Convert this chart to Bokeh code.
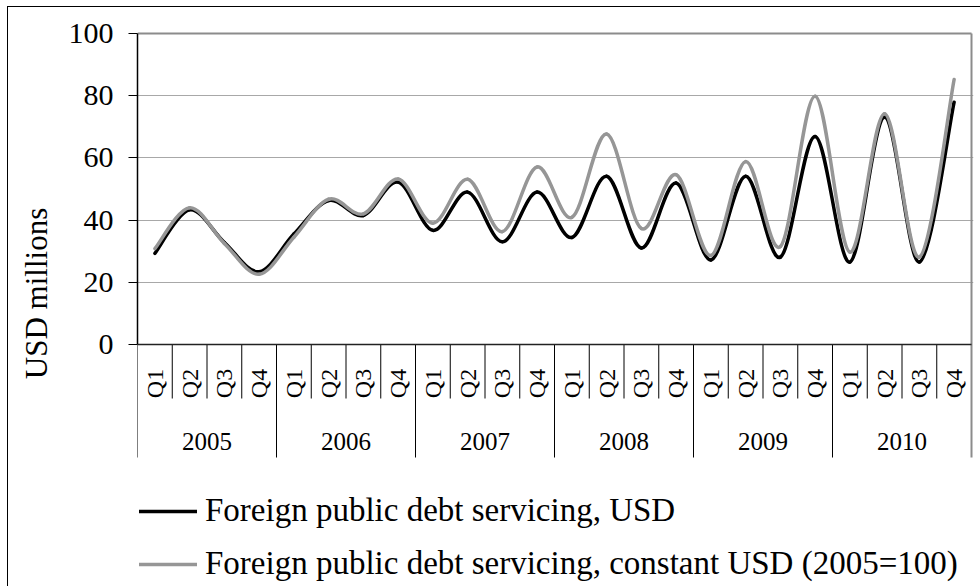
import numpy as np
from bokeh.plotting import figure
from bokeh.models import (LinearAxis, FixedTicker, Range1d, Legend, LegendItem,
                          ColumnDataSource, Grid, InlineStyleSheet)
from bokeh.core.properties import value
from bokeh.embed import file_html
from bokeh.resources import INLINE

# ---------------- data ----------------
years = ["2005", "2006", "2007", "2008", "2009", "2010"]
quarters = ["Q1", "Q2", "Q3", "Q4"]
usd = [29.3, 43.3, 32.8, 23.4, 35.5, 46.3, 41.5, 52.2,
       36.7, 49.0, 33.0, 49.0, 34.4, 54.1, 31.0, 51.9,
       27.2, 54.1, 28.1, 66.9, 26.5, 73.1, 26.5, 77.9]
usd_const = [30.8, 44.0, 32.5, 22.6, 34.5, 46.7, 42.0, 53.2,
             39.0, 53.1, 36.3, 57.1, 40.9, 67.7, 37.3, 54.6,
             28.6, 58.8, 31.5, 79.8, 29.7, 74.2, 28.1, 85.2]
series_names = ["Foreign public debt servicing, USD",
                "Foreign public debt servicing, constant USD (2005=100)"]
y_ticks = [0, 20, 40, 60, 80, 100]
y_label = "USD millions"

# ---------------- layout (pixels) ----------------
W, H = 980, 586
FRAME_L, AREA_R, FRAME_R = 137, 971, 973
ZERO_PX, TOP_PX = 344, 33
Q_LABEL_PX, Q_SEP_PX = 383, 398
YEAR_LABEL_PX, YEAR_SEP_PX = 441, 457
FONT = "'Liberation Serif', 'Times New Roman', serif"

n_q = len(quarters)
n = len(years) * n_q
y_max = y_ticks[-1]
x_per_px = n / (AREA_R - FRAME_L)
y_per_px = y_max / (ZERO_PX - TOP_PX)


def ydata(px):
    return (ZERO_PX - px) * y_per_px


p = figure(width=W, height=H, output_backend="svg", toolbar_location=None,
           x_range=Range1d(0, n + (FRAME_R - AREA_R) * x_per_px),
           y_range=Range1d(ydata(H), ydata(0)),
           x_axis_location=None, y_axis_location=None,
           min_border_left=FRAME_L, min_border_right=W - FRAME_R,
           min_border_top=0, min_border_bottom=0)
p.outline_line_color = None
p.background_fill_color = "white"
p.border_fill_color = "white"
p.grid.visible = False

# outer chart border (only its left and top edges fall inside the picture)
p.stylesheets = [InlineStyleSheet(css=(
    ":host {overflow: hidden;}"
    ":host::after {content: ''; position: absolute; left: 7px; top: 6px; right: -40px; bottom: -40px;"
    " border: 1.5px solid black; pointer-events: none;}"))]

# y axis
yax = LinearAxis(ticker=FixedTicker(ticks=y_ticks), bounds=(0, y_max))
yax.axis_line_color = "black"
yax.axis_line_width = 1.5
yax.major_tick_line_color = "black"
yax.major_tick_line_width = 1.2
yax.major_tick_out = 9
yax.major_tick_in = 0
yax.minor_tick_line_color = None
yax.major_label_text_font = FONT
yax.major_label_text_font_size = "30px"
yax.major_label_text_color = "black"
yax.major_label_standoff = 15
yax.axis_label = y_label
yax.axis_label_text_font = FONT
yax.axis_label_text_font_size = "31px"
yax.axis_label_text_font_style = "normal"
yax.axis_label_text_color = "black"
yax.axis_label_standoff = 12
p.add_layout(yax, "left")

grid = Grid(dimension=1, ticker=FixedTicker(ticks=y_ticks[1:-1]),
            grid_line_color="#a8a8a8", grid_line_width=1)
p.add_layout(grid)

# plot-area frame lines
p.segment(x0=[0], y0=[y_max], x1=[n], y1=[y_max], line_color="#8c8c8c", line_width=2)
p.segment(x0=[n], y0=[ydata(YEAR_SEP_PX)], x1=[n], y1=[y_max], line_color="#8c8c8c", line_width=2)

# category separators
bounds = list(range(n))
sep_bottom = [ydata(YEAR_SEP_PX) if b % n_q == 0 else ydata(Q_SEP_PX) for b in bounds]
p.segment(x0=bounds, y0=[0] * n, x1=bounds, y1=sep_bottom, line_color="black", line_width=1)
p.segment(x0=[0], y0=[0], x1=[n], y1=[0], line_color="#222222", line_width=1.5)

# category labels
qsrc = ColumnDataSource(dict(x=[i + 0.5 for i in range(n)],
                             y=[ydata(Q_LABEL_PX)] * n,
                             t=quarters * len(years)))
p.text(x="x", y="y", text="t", source=qsrc, angle=np.pi / 2,
       text_font=value(FONT), text_font_size="24px", text_color="black",
       text_align="center", text_baseline="middle")
ysrc = ColumnDataSource(dict(x=[k * n_q + n_q / 2 for k in range(len(years))],
                             y=[ydata(YEAR_LABEL_PX)] * len(years),
                             t=years))
p.text(x="x", y="y", text="t", source=ysrc,
       text_font=value(FONT), text_font_size="25px", text_color="black",
       text_align="center", text_baseline="middle")


def smooth_source(vals):
    v = np.asarray(vals, float)
    x = np.arange(n) + 0.5
    vp = np.concatenate([[v[0]], v, [v[-1]]])
    xp = np.concatenate([[x[0]], x, [x[-1]]])
    i = np.arange(n - 1)
    return ColumnDataSource(dict(
        x0=x[:-1], y0=v[:-1], x1=x[1:], y1=v[1:],
        cx0=x[:-1] + (xp[i + 2] - xp[i]) / 6, cy0=v[:-1] + (vp[i + 2] - vp[i]) / 6,
        cx1=x[1:] - (xp[i + 3] - xp[i + 1]) / 6, cy1=v[1:] - (vp[i + 3] - vp[i + 1]) / 6))


r1 = p.bezier(x0="x0", y0="y0", x1="x1", y1="y1", cx0="cx0", cy0="cy0", cx1="cx1", cy1="cy1",
              source=smooth_source(usd), line_color="black", line_width=3.5, line_cap="round")
r2 = p.bezier(x0="x0", y0="y0", x1="x1", y1="y1", cx0="cx0", cy0="cy0", cx1="cx1", cy1="cy1",
              source=smooth_source(usd_const), line_color="#969696", line_width=3.5, line_cap="round")

legend = Legend(items=[LegendItem(label=series_names[0], renderers=[r1]),
                       LegendItem(label=series_names[1], renderers=[r2])],
                location=(2, 4), orientation="vertical",
                glyph_width=58, glyph_height=20, label_standoff=8, spacing=16,
                padding=0, margin=0, border_line_color=None, background_fill_alpha=0,
                label_text_font=FONT, label_text_font_size="33px", label_text_color="black")
p.add_layout(legend)

open("out.html", "w").write(file_html(p, INLINE))
